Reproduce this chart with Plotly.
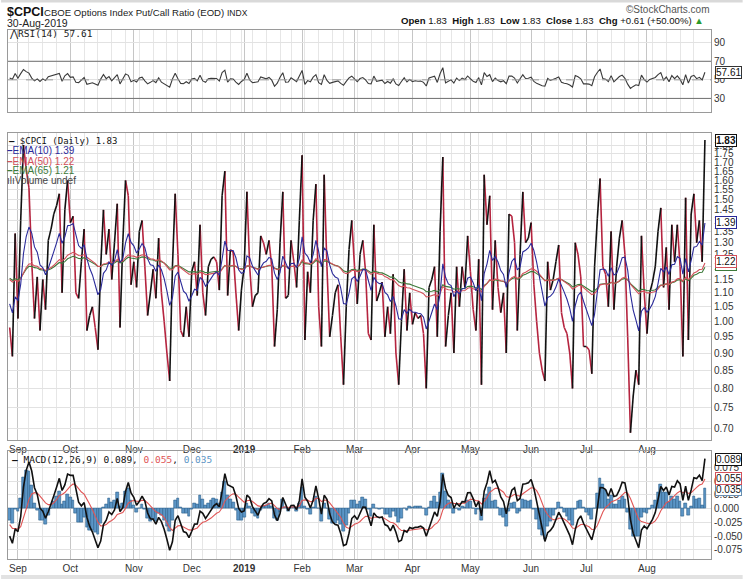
import math
import pandas as pd
import plotly.graph_objects as go

# ---------------- data ----------------
close = [
    0.98, 0.89, 1.34, 1.01, 1.40, 1.80, 1.66, 1.56, 1.22, 1.01,
    1.16, 0.97, 1.15, 1.04, 1.31, 1.36, 1.43, 1.47, 1.53, 1.10,
    1.45, 1.60, 1.39, 1.42, 1.10, 1.08, 1.22, 1.36, 0.97, 1.02,
    1.05, 0.98, 0.91, 1.20, 1.45, 1.25, 1.36, 1.15, 1.30, 1.48,
    0.98, 1.30, 1.60, 1.52, 1.13, 1.22, 1.12, 1.35, 1.40, 1.20,
    1.02, 1.10, 1.19, 1.08, 1.32, 1.10, 1.00, 0.90, 0.82, 1.20,
    1.53, 1.25, 0.97, 0.95, 1.05, 0.95, 1.18, 1.22, 1.09, 1.38,
    1.10, 1.02, 1.20, 1.23, 1.24, 1.22, 1.11, 1.52, 1.65, 1.09,
    1.27, 1.26, 1.10, 0.97, 1.11, 1.20, 1.54, 1.20, 1.05, 1.09,
    1.10, 1.33, 1.30, 1.25, 1.31, 1.20, 0.92, 1.04, 1.30, 1.54,
    1.08, 1.09, 1.31, 1.22, 1.12, 1.40, 1.74, 0.94, 1.18, 1.10,
    1.40, 1.58, 1.05, 0.92, 1.63, 1.20, 0.95, 1.02, 1.10, 1.13,
    0.95, 0.81, 1.05, 1.27, 1.40, 1.20, 1.06, 1.25, 1.31, 1.18,
    0.96, 0.94, 1.38, 1.07, 1.10, 1.14, 0.95, 1.05, 0.96, 1.17,
    0.90, 0.81, 1.00, 1.19, 0.97, 1.10, 0.99, 1.03, 1.01, 1.02,
    0.96, 0.80, 1.12, 1.15, 1.20, 0.95, 1.35, 1.73, 0.92, 1.02,
    1.10, 0.90, 1.20, 1.05, 1.20, 1.12, 1.33, 1.18, 1.04, 0.97,
    1.23, 0.81, 1.63, 1.38, 1.52, 1.04, 1.31, 1.12, 1.03, 1.10,
    0.90, 1.43, 1.42, 1.30, 0.97, 1.25, 1.54, 1.30, 1.32, 1.39,
    1.13, 1.00, 0.90, 0.85, 0.82, 1.22, 1.11, 1.15, 1.22, 1.29,
    1.03, 0.98, 0.96, 0.90, 0.80, 1.30, 1.25, 1.16, 0.92, 0.92,
    0.91, 0.84, 1.20, 1.41, 1.61, 1.20, 1.17, 1.05, 1.35, 1.04,
    1.20, 1.32, 1.40, 1.25, 0.95, 0.69, 0.78, 0.85, 0.81, 1.33,
    1.10, 0.96, 1.10, 1.14, 1.20, 1.35, 1.46, 1.12, 1.28, 1.04,
    1.38, 1.22, 1.38, 1.20, 0.89, 1.51, 0.94, 1.43, 1.53, 1.30,
    1.40, 1.22, 1.83,
]

start_date = "2018-08-29"
end_date = "2019-08-30"
holidays = ["2018-09-03", "2018-11-22", "2018-12-05", "2018-12-25", "2019-01-01",
            "2019-01-21", "2019-02-18", "2019-04-19", "2019-05-27", "2019-07-04"]
month_labels = ["Sep", "Oct", "Nov", "Dec", "<b>2019</b>", "Feb", "Mar", "Apr",
                "May", "Jun", "Jul", "Aug"]

price_ticks = [0.70, 0.75, 0.80, 0.85, 0.90, 0.95, 1.00, 1.05, 1.10, 1.15, 1.20,
               1.25, 1.30, 1.35, 1.40, 1.45, 1.50, 1.55, 1.60, 1.65, 1.70, 1.75, 1.80]
rsi_ticks = [30, 50, 70, 90]
macd_ticks = [-0.075, -0.050, -0.025, 0.000, 0.025, 0.050, 0.075]

# indicator starting values read at the left edge of the chart
ema10_start, ema50_start, ema65_start = 1.06, 1.15, 1.155
ema12_start, ema26_start, signal_start = 1.10, 1.15, -0.029
rsi_gain_start, rsi_loss_start = 0.13, 0.12

# values printed in the legends
last_close, last_ema10, last_ema50, last_ema65 = 1.83, 1.39, 1.22, 1.21
last_rsi = 57.61
last_macd, last_signal, last_hist = 0.089, 0.055, 0.035

# ---------------- derived series ----------------
n = len(close)
days = pd.bdate_range(start_date, end_date)
days = days[~days.isin(pd.to_datetime(holidays))][-n:]
xi = list(range(n))
month_idx = [i for i in range(1, n) if days[i].month != days[i - 1].month]
week_idx = [i for i in range(1, n) if days[i].weekday() < days[i - 1].weekday()]


def ema(vals, period, start):
    a = 2.0 / (period + 1)
    out = [start]
    for v in vals[1:]:
        out.append(out[-1] + a * (v - out[-1]))
    return out


def rsi(vals, period, g0, l0):
    g, l = g0, l0
    out = [100 - 100 / (1 + g / l)]
    for a, b in zip(vals[:-1], vals[1:]):
        d = b - a
        g = (g * (period - 1) + max(d, 0)) / period
        l = (l * (period - 1) + max(-d, 0)) / period
        out.append(100 - 100 / (1 + g / l))
    return out


ema10 = ema(close, 10, ema10_start)
ema50 = ema(close, 50, ema50_start)
ema65 = ema(close, 65, ema65_start)
e12 = ema(close, 12, ema12_start)
e26 = ema(close, 26, ema26_start)
macd = [a - b for a, b in zip(e12, e26)]
signal = ema(macd, 9, signal_start)
hist = [a - b for a, b in zip(macd, signal)]
rsi14 = rsi(close, 14, rsi_gain_start, rsi_loss_start)

up_x, up_y, dn_x, dn_y = [], [], [], []
for i in range(n - 1):
    if close[i + 1] >= close[i]:
        up_x += [i, i + 1, None]; up_y += [close[i], close[i + 1], None]
    else:
        dn_x += [i, i + 1, None]; dn_y += [close[i], close[i + 1], None]

# ---------------- figure ----------------
W, H = 750, 581
L, R, T, B = 7, 718, 30, 561
FONT = "Liberation Sans, Arial, sans-serif"
MONO = "DejaVu Sans Mono, monospace"


def px(x):
    return (x - L) / (R - L)


def py(y):
    return (B - y) / (B - T)


fig = go.Figure()
fig.add_trace(go.Scatter(x=dn_x, y=dn_y, mode="lines", line=dict(color="#b5243f", width=1.6),
                         xaxis="x", yaxis="y", hoverinfo="skip"))
fig.add_trace(go.Scatter(x=up_x, y=up_y, mode="lines", line=dict(color="#111111", width=1.6),
                         xaxis="x", yaxis="y", hoverinfo="skip"))
fig.add_trace(go.Scatter(x=xi, y=ema65, mode="lines", line=dict(color="#3d7a3a", width=1.1),
                         xaxis="x", yaxis="y"))
fig.add_trace(go.Scatter(x=xi, y=ema50, mode="lines", line=dict(color="#d2505a", width=1.1),
                         xaxis="x", yaxis="y"))
fig.add_trace(go.Scatter(x=xi, y=ema10, mode="lines", line=dict(color="#2a2a9a", width=1.1),
                         xaxis="x", yaxis="y"))
fig.add_trace(go.Scatter(x=xi, y=rsi14, mode="lines", line=dict(color="#3a3a3a", width=1.1),
                         xaxis="x2", yaxis="y2"))
fig.add_trace(go.Bar(x=xi, y=hist, width=1.0, marker=dict(color="#5b95c6",
                     line=dict(color="#2d5f8c", width=0.6)), xaxis="x3", yaxis="y3"))
fig.add_trace(go.Scatter(x=xi, y=signal, mode="lines", line=dict(color="#e05555", width=1.1),
                         xaxis="x3", yaxis="y3"))
fig.add_trace(go.Scatter(x=xi, y=macd, mode="lines", line=dict(color="#111111", width=1.6),
                         xaxis="x3", yaxis="y3"))

xr = [-0.6, 254.2]
xcommon = dict(range=xr, tickvals=month_idx, ticktext=month_labels, showgrid=True,
               gridcolor="#c6c6c6", gridwidth=1, zeroline=False, showline=True, mirror=True,
               linecolor="#9a9a9a", ticks="", tickfont=dict(family=FONT, size=10, color="#333"),
               minor=dict(tickvals=week_idx, showgrid=True, gridcolor="#e6e6e6", gridwidth=1))
ycommon = dict(side="right", showgrid=True, gridcolor="#e2e2e2", zeroline=False, showline=True,
               mirror=True, linecolor="#9a9a9a", ticks="",
               tickfont=dict(family=FONT, size=10, color="#333"))

d_macd = [0, py(453)]
d_main = [py(442), py(133)]
d_rsi = [py(112), 1]

fig.update_layout(
    width=W, height=H, margin=dict(l=L, r=W - R, t=T, b=H - B),
    paper_bgcolor="white", plot_bgcolor="white", showlegend=False, bargap=0,
    xaxis=dict(xcommon, anchor="y", domain=[0, 1]),
    xaxis2=dict(xcommon, anchor="y2", domain=[0, 1], matches="x", showticklabels=False),
    xaxis3=dict(xcommon, anchor="y3", domain=[0, 1], matches="x"),
    yaxis=dict(ycommon, anchor="x", domain=d_main, type="log",
               range=[math.log10(0.6726), math.log10(1.876)],
               tickvals=price_ticks, ticktext=["%.2f" % v for v in price_ticks]),
    yaxis2=dict(ycommon, anchor="x2", domain=d_rsi, range=[15.7, 103.7],
                tickvals=rsi_ticks, ticktext=[str(v) for v in rsi_ticks]),
    yaxis3=dict(ycommon, anchor="x3", domain=d_macd, range=[-0.0915, 0.104],
                tickvals=macd_ticks, ticktext=["%.3f" % v for v in macd_ticks]),
)

# RSI reference lines
fig.add_shape(type="line", xref="x2 domain", yref="y2", x0=0, x1=1, y0=70, y1=70,
              line=dict(color="#707070", width=1))
fig.add_shape(type="line", xref="x2 domain", yref="y2", x0=0, x1=1, y0=30, y1=30,
              line=dict(color="#707070", width=1))
fig.add_shape(type="line", xref="x2 domain", yref="y2", x0=0, x1=1, y0=50, y1=50,
              line=dict(color="#9a9a9a", width=1, dash="dash"))
# thin grey page bands at the very top and bottom
fig.add_shape(type="rect", xref="paper", yref="paper", x0=px(0), x1=px(W), y0=py(2.5), y1=py(0),
              line=dict(width=0), fillcolor="#d9d9d9", layer="below")
fig.add_shape(type="rect", xref="paper", yref="paper", x0=px(0), x1=px(W), y0=py(H), y1=py(577),
              line=dict(width=0), fillcolor="#e2e2e2", layer="below")

ann = []


def text(x, y, s, size=10, color="#111", family=FONT, xanchor="left"):
    ann.append(dict(x=px(x), y=py(y), xref="paper", yref="paper", text=s, showarrow=False,
                    xanchor=xanchor, yanchor="middle", borderpad=0,
                    font=dict(family=family, size=size, color=color)))


# header
text(5, 12, "<b>$CPCI</b>", size=12.5)
text(42, 12.5, "CBOE Options Index Put/Call Ratio (EOD)", size=9.6, color="#222")
text(227, 12.5, "INDX", size=8.5, color="#222")
text(5, 23, "30-Aug-2019", size=10.5, color="#222")
text(718, 9, "©StockCharts.com", size=10, color="#555", xanchor="right")
text(712, 20, "<b>Open</b> 1.83  <b>High</b> 1.83  <b>Low</b> 1.83  <b>Close</b> 1.83  "
     "<b>Chg</b> +0.61 (+50.00%) <span style='color:#2a9a2a'>▲</span>", size=9.6,
     color="#111", xanchor="right")

# panel legends
text(7, 34, "⋀RSI(14) %.2f" % last_rsi, size=9.5, family=MONO, color="#222")
text(7, 141, "<b>—</b> $CPCI (Daily) %.2f" % last_close, size=9, family=MONO, color="#111")
text(5, 151, "<b>–</b>EMA(10) %.2f" % last_ema10, size=10, color="#2a2a9a")
text(5, 161.5, "<b>–</b>EMA(50) %.2f" % last_ema50, size=10, color="#d2505a")
text(5, 171.5, "<b>–</b>EMA(65) %.2f" % last_ema65, size=10, color="#3d7a3a")
text(5, 181, "ılıVolume undef", size=10, color="#444")
text(10, 461, "<b>—</b> MACD(12,26,9) %.3f, <span style='color:#e05555'>%.3f</span>, "
     "<span style='color:#5b95c6'>%.3f</span>" % (last_macd, last_signal, last_hist),
     size=9.5, family=MONO, color="#111")


def box(yref, yval, s, color, bold=False):
    ann.append(dict(x=1, y=yval, xref="paper", yref=yref, text=("<b>%s</b>" % s) if bold else s,
                    showarrow=False, xanchor="left", yanchor="middle", xshift=4,
                    font=dict(family=FONT, size=10, color="#111"), bgcolor="white",
                    bordercolor=color, borderwidth=1, borderpad=0))


box("y", math.log10(last_ema65), "%.2f" % last_ema65, "#3d7a3a")
box("y", math.log10(last_ema50), "%.2f" % last_ema50, "#d2505a")
box("y", math.log10(last_ema10), "%.2f" % last_ema10, "#2a2a9a")
box("y", math.log10(last_close), "%.2f" % last_close, "#111", bold=True)
box("y2", last_rsi, "%.2f" % last_rsi, "#333")
box("y3", last_hist, "%.3f" % last_hist, "#6a8fb0")
box("y3", last_signal, "%.3f" % last_signal, "#d2505a")
box("y3", last_macd, "%.3f" % last_macd, "#111")

fig.update_layout(annotations=ann)
fig.write_html("out.html")
